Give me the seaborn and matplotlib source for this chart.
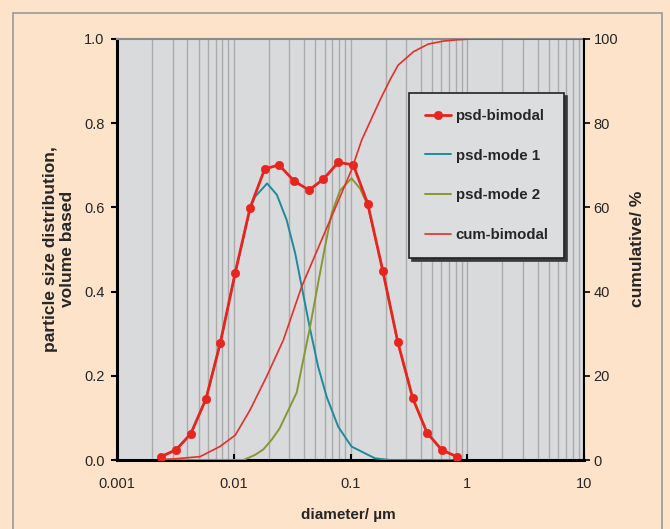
import matplotlib
matplotlib.use("Agg")
import matplotlib.pyplot as plt
from matplotlib.patches import Rectangle
import seaborn as sns

# ---------------- data ----------------
diam_bimodal = [0.00238, 0.0032, 0.00428, 0.00578, 0.00767, 0.0103, 0.0138, 0.0184,
                0.0244, 0.0328, 0.0441, 0.0585, 0.0786, 0.1057, 0.1404, 0.1888,
                0.2537, 0.341, 0.452, 0.604, 0.812]
psd_bimodal = [0.008, 0.024, 0.062, 0.145, 0.278, 0.445, 0.599, 0.691, 0.701, 0.663,
               0.641, 0.667, 0.707, 0.701, 0.609, 0.450, 0.281, 0.147, 0.065, 0.024,
               0.008]

diam_mode1 = [0.00238, 0.0032, 0.00428, 0.00578, 0.00767, 0.0103, 0.0138, 0.0152,
              0.0193, 0.0234, 0.0284, 0.0336, 0.0382, 0.0446, 0.0528, 0.0625, 0.0785,
              0.102, 0.162, 0.218, 0.40, 0.812]
psd_mode1 = [0.008, 0.024, 0.062, 0.145, 0.278, 0.445, 0.597, 0.625, 0.657, 0.630,
             0.570, 0.491, 0.412, 0.317, 0.222, 0.150, 0.079, 0.032, 0.004, 0.0,
             0.0, 0.0]

diam_mode2 = [0.00238, 0.0121, 0.0152, 0.0179, 0.0211, 0.0247, 0.0294, 0.0346,
              0.0382, 0.0446, 0.0528, 0.0605, 0.069, 0.0813, 0.102, 0.1206, 0.1404,
              0.1888, 0.2537, 0.341, 0.452, 0.604, 0.812]
psd_mode2 = [0.0, 0.0, 0.012, 0.025, 0.048, 0.075, 0.119, 0.16, 0.22, 0.31, 0.42,
             0.507, 0.586, 0.64, 0.669, 0.645, 0.605, 0.450, 0.281, 0.147, 0.065,
             0.024, 0.008]

diam_cum = [0.00238, 0.0032, 0.00514, 0.00762, 0.0103, 0.0138, 0.0191, 0.0266,
            0.0382, 0.102, 0.1247, 0.179, 0.218, 0.256, 0.347, 0.464, 0.624, 0.812,
            1.06, 10.0]
cum_bimodal = [0.1, 0.3, 0.8, 3.2, 5.9, 11.9, 19.8, 28.5, 41.2, 68.9, 76.0, 85.5,
               90.3, 93.8, 97.0, 98.8, 99.5, 99.8, 100.0, 100.0]

series_labels = ["psd-bimodal", "psd-mode 1", "psd-mode 2", "cum-bimodal"]
xticks = [0.001, 0.01, 0.1, 1, 10]
xtick_labels = ["0.001", "0.01", "0.1", "1", "10"]
yticks_left = [0.0, 0.2, 0.4, 0.6, 0.8, 1.0]
ytick_left_labels = ["0.0", "0.2", "0.4", "0.6", "0.8", "1.0"]
yticks_right = [0, 20, 40, 60, 80, 100]
ytick_right_labels = ["0", "20", "40", "60", "80", "100"]

# ---------------- style ----------------
sns.set_style("white")
plt.rcParams["font.family"] = ["Liberation Sans", "DejaVu Sans"]

RED = "#E8241E"
TEAL = "#1F8A9B"
OLIVE = "#8A9636"
PEACH = "#FDE3C9"
PLOTBG = "#D9DADC"

W, H = 670, 529
fig = plt.figure(figsize=(W / 100, H / 100), dpi=100, facecolor=PEACH)
L, R, T, B = 117, 584, 39, 460
ax = fig.add_axes([L / W, 1 - B / H, (R - L) / W, (B - T) / H])
ax.set_facecolor(PLOTBG)

ax.set_xscale("log")
ax.set_xlim(0.001, 10)
ax.set_ylim(0, 1)

sns.lineplot(x=diam_mode1, y=psd_mode1, ax=ax, color=TEAL, lw=1.4, sort=False,
             legend=False, zorder=3)
sns.lineplot(x=diam_mode2, y=psd_mode2, ax=ax, color=OLIVE, lw=1.4, sort=False,
             legend=False, zorder=3)
sns.lineplot(x=diam_bimodal, y=psd_bimodal, ax=ax, color=RED, lw=2.0, marker="o",
             markersize=6, markeredgecolor=RED, markeredgewidth=0.5, sort=False,
             legend=False, zorder=4)

ax2 = ax.twinx()
ax2.set_ylim(0, 100)
sns.lineplot(x=diam_cum, y=cum_bimodal, ax=ax2, color="#E3302A", lw=1.2, sort=False,
             legend=False)
ax2.set_xlim(0.001, 10)

# grid
ax.xaxis.grid(True, which="both", color="#ABABAB", lw=1.0)
ax.yaxis.grid(False)
ax.set_axisbelow(True)

# ticks
ax.set_xticks(xticks)
ax.set_xticklabels(xtick_labels)
ax.set_yticks(yticks_left)
ax.set_yticklabels(ytick_left_labels)
ax2.set_yticks(yticks_right)
ax2.set_yticklabels(ytick_right_labels)

ax.tick_params(axis="x", which="major", direction="in", length=4, width=1.5,
               color="black", pad=12.5, labelsize=10.5, bottom=True, top=False)
ax.tick_params(axis="x", which="minor", length=0)
ax.tick_params(axis="y", which="major", direction="out", length=4, width=1.5,
               color="black", pad=5, labelsize=10.5, left=True, right=False)
ax2.tick_params(axis="y", which="major", direction="out", length=4, width=1.2,
                color="black", pad=3, labelsize=10.5, right=True)
ax2.tick_params(axis="x", which="both", length=0)

# spines
ax.spines["left"].set_color("black")
ax.spines["left"].set_linewidth(2.2)
ax.spines["bottom"].set_color("black")
ax.spines["bottom"].set_linewidth(2.2)
ax.spines["top"].set_color("#8C8C8C")
ax.spines["top"].set_linewidth(1.5)
ax.spines["right"].set_visible(False)
for s in ["left", "top", "bottom"]:
    ax2.spines[s].set_visible(False)
ax2.spines["right"].set_color("black")
ax2.spines["right"].set_linewidth(1.5)

# axis labels
fig.text(59 / W, 1 - 249 / H, "particle size distribution,\nvolume based",
         rotation=90, ha="center", va="center", ma="center",
         fontsize=12.5, fontweight="bold", linespacing=1.2)
fig.text(637 / W, 1 - 249 / H, "cumulative/ %", rotation=90, ha="center",
         va="center", fontsize=12.5, fontweight="bold")
fig.text(348 / W, 1 - 515 / H, "diameter/ µm", ha="center", va="center",
         fontsize=11, fontweight="bold")

# legend
handles = [ax.lines[2], ax.lines[0], ax.lines[1], ax2.lines[0]]
leg = ax2.legend(handles, series_labels, loc="upper left",
                 bbox_to_anchor=(409 / W, 1 - 93 / H), bbox_transform=fig.transFigure,
                 frameon=True, fancybox=False, shadow={"color": "#3a3a3a", "alpha": 1},
                 facecolor="#DCDDDF", edgecolor="#222222", framealpha=1,
                 prop={"weight": "bold", "size": 10.8}, borderpad=1.05,
                 labelspacing=1.72, handlelength=1.75, handletextpad=0.3,
                 borderaxespad=0)
leg.get_frame().set_linewidth(1.2)

# figure border
fig.patches.append(Rectangle((13 / W, -0.05), (662 - 13) / W, 1.05 - 13 / H,
                             transform=fig.transFigure, fill=False,
                             edgecolor="#9A9A9A", lw=1.2))

fig.savefig("out.png", dpi=100, facecolor=PEACH)
